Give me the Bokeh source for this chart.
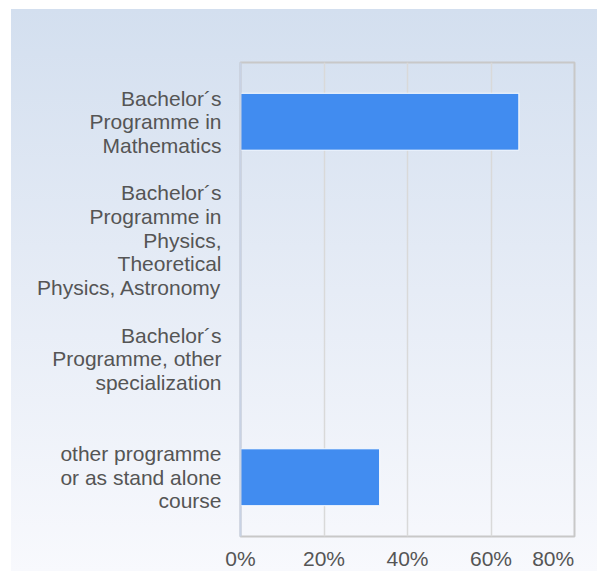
from bokeh.plotting import figure
from bokeh.models import FactorRange, Range1d, FixedTicker, NumeralTickFormatter, ColumnDataSource
from bokeh.embed import file_html
from bokeh.resources import INLINE

categories = [
    "Bachelor\u00b4s\nProgramme in\nMathematics",
    "Bachelor\u00b4s\nProgramme in\nPhysics,\nTheoretical\nPhysics, Astronomy",
    "Bachelor\u00b4s\nProgramme, other\nspecialization",
    "other programme\nor as stand alone\ncourse",
]
shares = [0.6667, 0.0, 0.0, 0.3333]
x_ticks = [0.0, 0.2, 0.4, 0.6, 0.8]
last_tick_label = "80%"

TEXT = "#555555"
FONT = "Liberation Sans"
FS = "21px"

p = figure(
    y_range=FactorRange(factors=list(reversed(categories))),
    x_range=Range1d(0, 0.8),
    frame_width=334, frame_height=474,
    min_border_left=240, min_border_right=23,
    min_border_top=62, min_border_bottom=35,
    output_backend="svg", toolbar_location=None,
)
p.border_fill_color = None
p.background_fill_color = None
p.styles = {
    "background-color": "white",
    "background-image": "linear-gradient(to bottom, #D3DFEF 0%, #E6ECF6 50%, #F8F9FD 100%)",
    "background-position": "11px 9px",
    "background-size": "calc(100% - 11px) calc(100% - 9px)",
    "background-repeat": "no-repeat",
}

src = ColumnDataSource(dict(
    y=categories, right=shares,
    edge=[1.0 if v > 0 else 0.0 for v in shares],
))
p.hbar(y="y", right="right", left=0, height=0.48, source=src,
       fill_color="#418CF0", line_color="white", line_width=1, line_alpha="edge")

p.outline_line_color = "#C8C8C8"
p.outline_line_width = 2

p.xgrid.ticker = FixedTicker(ticks=x_ticks)
p.xgrid.grid_line_color = "#D9D9D9"
p.xgrid.grid_line_width = 1.5
p.ygrid.grid_line_color = None

xa = p.xaxis[0]
xa.ticker = FixedTicker(ticks=x_ticks)
xa.formatter = NumeralTickFormatter(format="0%")
# last label sits flush with the right edge of the plot area, as in the original
xa.major_label_overrides = {x_ticks[-1]: last_tick_label + "\u00a0" * 4}
xa.axis_line_color = None
xa.major_tick_line_color = None
xa.minor_tick_line_color = None
xa.major_label_standoff = 4
xa.major_label_text_font = FONT
xa.major_label_text_font_size = FS
xa.major_label_text_color = TEXT

ya = p.yaxis[0]
ya.axis_line_color = "#C8D2E4"
ya.axis_line_width = 2
ya.major_tick_line_color = None
ya.minor_tick_line_color = None
ya.major_label_standoff = 13
ya.major_label_text_font = FONT
ya.major_label_text_font_size = FS
ya.major_label_text_color = TEXT
ya.major_label_text_line_height = 1.03

open("out.html", "w").write(file_html(p, INLINE))
